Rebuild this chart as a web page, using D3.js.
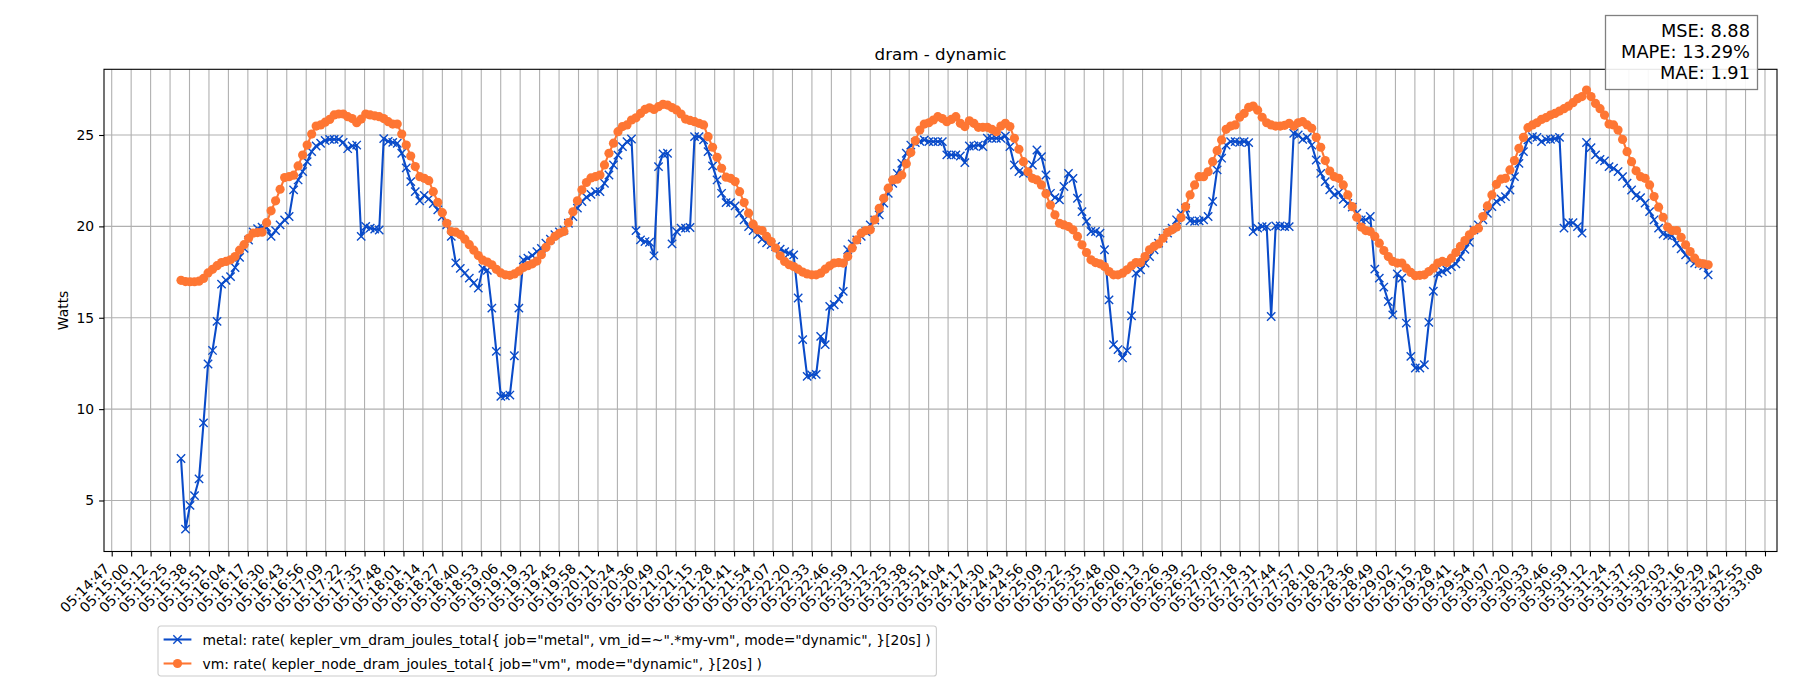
<!DOCTYPE html>
<html><head><meta charset="utf-8">
<script src="https://cdn.jsdelivr.net/npm/d3@7"></script>
<style>
body{margin:0;background:#fff;}
svg{display:block;}
text{font-family:"DejaVu Sans",sans-serif;fill:#000;}
</style>
</head><body>
<svg id="chart" width="1800" height="700"></svg>
<script>
const chartTitle = "dram - dynamic";
const yLabel = "Watts";
const metricLines = ["MSE: 8.88", "MAPE: 13.29%", "MAE: 1.91"];
const seriesNames = [
  'metal: rate( kepler_vm_dram_joules_total{ job="metal", vm_id=~".*my-vm", mode="dynamic", }[20s] )',
  'vm: rate( kepler_node_dram_joules_total{ job="vm", mode="dynamic", }[20s] )'
];
const tickLabels = ["05:14:47","05:15:00","05:15:12","05:15:25","05:15:38","05:15:51","05:16:04","05:16:17","05:16:30","05:16:43","05:16:56","05:17:09","05:17:22","05:17:35","05:17:48","05:18:01","05:18:14","05:18:27","05:18:40","05:18:53","05:19:06","05:19:19","05:19:32","05:19:45","05:19:58","05:20:11","05:20:24","05:20:36","05:20:49","05:21:02","05:21:15","05:21:28","05:21:41","05:21:54","05:22:07","05:22:20","05:22:33","05:22:46","05:22:59","05:23:12","05:23:25","05:23:38","05:23:51","05:24:04","05:24:17","05:24:30","05:24:43","05:24:56","05:25:09","05:25:22","05:25:35","05:25:48","05:26:00","05:26:13","05:26:26","05:26:39","05:26:52","05:27:05","05:27:18","05:27:31","05:27:44","05:27:57","05:28:10","05:28:23","05:28:36","05:28:49","05:29:02","05:29:15","05:29:28","05:29:41","05:29:54","05:30:07","05:30:20","05:30:33","05:30:46","05:30:59","05:31:12","05:31:24","05:31:37","05:31:50","05:32:03","05:32:16","05:32:29","05:32:42","05:32:55","05:33:08"];
const yTickValues = [5, 10, 15, 20, 25];
const seriesStart = "05:15:33.15";
const stepSeconds = 3;

const metalValues = [
7.3,3.43,4.73,5.27,6.18,9.25,12.47,13.21,14.8,16.84,
17.05,17.25,17.75,18.3,18.8,19.25,19.7,19.88,19.95,19.95,
19.45,19.77,20.08,20.35,20.54,22.0,22.54,23.0,23.54,24.09,
24.4,24.55,24.7,24.76,24.76,24.76,24.6,24.25,24.4,24.45,
19.45,20.0,19.9,19.85,19.8,24.8,24.65,24.6,24.55,24.0,
23.2,22.45,21.9,21.4,21.7,21.5,21.25,20.9,20.54,20.08,
19.45,18.0,17.7,17.44,17.17,16.9,16.62,17.7,17.6,15.53,
13.16,10.7,10.73,10.77,12.92,15.53,18.17,18.26,18.4,18.62,
18.8,19.08,19.3,19.55,19.7,19.8,20.17,20.54,21.0,21.36,
21.6,21.75,21.9,21.9,22.36,22.81,23.36,23.9,24.36,24.64,
24.78,19.77,19.26,19.17,19.13,18.39,23.27,23.97,24.0,19.04,
19.72,19.9,19.9,19.94,24.91,24.91,24.73,24.09,23.31,22.54,
21.81,21.3,21.3,21.12,20.72,20.36,19.99,19.77,19.55,19.3,
19.1,19.0,18.9,18.75,18.62,18.53,18.44,16.08,13.8,11.79,
11.87,11.9,13.98,13.53,15.62,15.71,16.02,16.44,18.72,19.04,
19.26,19.45,19.72,20.08,20.35,20.63,21.27,21.81,22.36,22.9,
23.45,24.0,24.45,24.58,24.65,24.73,24.64,24.64,24.64,24.64,
23.91,23.91,23.91,23.85,23.49,24.4,24.4,24.45,24.36,24.82,
24.82,24.82,24.82,24.95,24.36,23.36,23.0,22.9,23.09,23.36,
24.18,23.82,22.81,21.81,21.57,21.45,22.18,22.9,22.63,21.54,
20.81,20.27,19.72,19.72,19.63,18.72,15.98,13.53,13.26,12.8,
13.2,15.11,17.44,17.62,17.99,18.35,18.72,19.08,19.35,19.63,
19.9,20.36,20.72,21.0,20.3,20.27,20.3,20.36,20.54,21.36,
23.09,23.73,24.45,24.64,24.64,24.6,24.64,24.58,19.72,19.9,
19.99,19.99,15.07,20.03,20.03,19.99,19.99,25.09,25.0,24.76,
24.87,24.45,23.63,22.9,22.45,22.0,21.72,21.85,21.48,21.25,
21.05,20.72,20.36,20.36,20.54,17.66,17.17,16.68,15.89,15.16,
17.4,17.17,14.71,12.89,12.25,12.25,12.43,14.75,16.45,17.44,
17.53,17.62,17.8,17.95,18.35,18.75,19.13,19.81,20.08,20.36,
20.72,21.08,21.36,21.5,21.63,21.99,22.72,23.45,24.09,24.73,
24.91,24.87,24.64,24.76,24.76,24.8,24.87,19.9,20.2,20.2,
19.99,19.63,24.59,24.31,23.91,23.67,23.58,23.27,23.18,23.0,
22.72,22.36,21.99,21.68,21.57,21.27,20.81,20.36,19.9,19.58,
19.5,19.5,19.08,18.77,18.44,18.17,17.99,17.95,17.85,17.35
];

const vmValues = [
17.05,16.98,16.97,16.97,17.0,17.15,17.45,17.65,17.85,18.02,
18.08,18.17,18.35,18.7,19.0,19.35,19.63,19.66,19.68,20.2,
20.85,21.4,22.03,22.67,22.72,22.8,23.31,23.9,24.45,25.05,
25.49,25.55,25.7,25.85,26.1,26.15,26.15,26.0,25.9,25.67,
25.87,26.15,26.1,26.05,26.0,25.9,25.73,25.6,25.6,25.05,
24.45,23.85,23.27,22.72,22.63,22.5,21.9,21.32,20.75,20.17,
19.72,19.68,19.55,19.3,19.0,18.7,18.4,18.15,18.05,17.9,
17.65,17.45,17.35,17.32,17.4,17.55,17.75,17.85,17.95,18.1,
18.45,18.85,19.2,19.45,19.62,19.72,20.2,20.8,21.4,22.0,
22.4,22.65,22.72,22.81,23.36,24.0,24.55,25.18,25.46,25.55,
25.82,25.94,26.18,26.4,26.49,26.4,26.55,26.68,26.64,26.5,
26.37,26.15,25.87,25.8,25.73,25.64,25.55,24.91,24.33,23.78,
23.18,22.69,22.63,22.45,21.9,21.3,20.72,20.12,19.81,19.77,
19.45,19.17,18.81,18.39,18.08,17.9,17.8,17.66,17.5,17.4,
17.35,17.35,17.44,17.66,17.84,17.99,18.02,17.99,18.35,18.81,
19.26,19.63,19.77,19.81,20.36,20.99,21.54,22.09,22.54,22.58,
22.81,23.42,24.04,24.69,25.27,25.6,25.67,25.82,26.0,25.9,
25.73,25.85,26.0,25.64,25.46,25.78,25.64,25.42,25.42,25.42,
25.31,25.18,25.49,25.64,25.46,24.82,24.22,23.54,22.99,22.63,
22.54,22.27,21.78,21.17,20.63,20.17,20.08,19.99,19.81,19.45,
18.99,18.57,18.17,18.02,17.95,17.8,17.53,17.35,17.35,17.44,
17.62,17.84,18.02,18.02,18.35,18.72,18.9,19.04,19.35,19.67,
19.81,19.96,20.48,21.08,21.72,22.27,22.72,22.72,22.99,23.54,
24.14,24.73,25.31,25.49,25.55,25.97,26.18,26.51,26.58,26.36,
25.97,25.67,25.55,25.49,25.49,25.53,25.64,25.49,25.67,25.73,
25.55,25.37,24.87,24.33,23.6,23.03,22.72,22.63,22.27,21.72,
21.08,20.5,19.96,19.77,19.72,19.45,19.08,18.68,18.35,18.08,
17.99,17.99,17.71,17.48,17.3,17.32,17.35,17.53,17.71,17.99,
18.08,18.02,18.26,18.57,18.9,19.22,19.54,19.77,19.9,20.54,
21.12,21.72,22.3,22.58,22.63,23.09,23.6,24.27,24.87,25.4,
25.55,25.67,25.85,25.95,26.09,26.18,26.31,26.44,26.58,26.77,
26.99,27.1,27.46,27.1,26.73,26.44,26.09,25.6,25.55,25.27,
24.76,24.09,23.54,23.04,22.72,22.63,22.27,21.63,21.05,20.5,
19.96,19.77,19.77,19.4,18.99,18.62,18.26,17.99,17.95,17.9
];

const metalColor = "#0a4bc9";
const vmColor = "#fe7633";

const svg = d3.select("#chart");
const W = 1800, H = 700;
svg.append("rect").attr("width", W).attr("height", H).attr("fill", "#fff");

const M = {left: 104, right: 1777, top: 69.3, bottom: 551.5};
const toSec = s => { const p = s.split(":").map(Number); return p[0]*3600 + p[1]*60 + p[2]; };
const t0 = toSec(tickLabels[0]), t1 = toSec(tickLabels[tickLabels.length - 1]);
const tickVals = tickLabels.map((_, i) => t0 + i * (t1 - t0) / (tickLabels.length - 1));
const x = d3.scaleLinear().domain([t0 - 5.13, t1 + 8.0]).range([M.left, M.right]);
const y = d3.scaleLinear().domain([2.209, 28.595]).range([M.bottom, M.top]);
const start = toSec(seriesStart);
const metal = metalValues.map((v, i) => ({t: start + i * stepSeconds, v}));
const vm = vmValues.map((v, i) => ({t: start + i * stepSeconds, v}));

// grid
const grid = svg.append("g");
grid.selectAll(".gx").data(tickVals).join("line")
  .attr("x1", d => x(d)).attr("x2", d => x(d)).attr("y1", M.top).attr("y2", M.bottom)
  .attr("stroke", "#b0b0b0").attr("stroke-width", 1.1);
grid.selectAll(".gy").data(yTickValues).join("line")
  .attr("x1", M.left).attr("x2", M.right).attr("y1", d => y(d)).attr("y2", d => y(d))
  .attr("stroke", "#b0b0b0").attr("stroke-width", 1.1);

// axes
const xAxis = svg.append("g").attr("transform", `translate(0,${M.bottom})`)
  .call(d3.axisBottom(x).tickValues(tickVals).tickFormat((d, i) => tickLabels[i]).tickSize(4.9).tickSizeOuter(0));
xAxis.select(".domain").remove();
xAxis.selectAll(".tick line").attr("stroke", "#000").attr("stroke-width", 1.1);
xAxis.selectAll(".tick text")
  .attr("font-size", "13.9px").attr("font-family", "DejaVu Sans")
  .attr("text-anchor", "end").attr("x", 0).attr("y", 0).attr("dy", 0)
  .attr("transform", "translate(-2,18) rotate(-45)");

const yAxis = svg.append("g").attr("transform", `translate(${M.left},0)`)
  .call(d3.axisLeft(y).tickValues(yTickValues).tickFormat(d3.format("d")).tickSize(4.9).tickPadding(4.9).tickSizeOuter(0));
yAxis.select(".domain").remove();
yAxis.selectAll(".tick line").attr("stroke", "#000").attr("stroke-width", 1.1);
yAxis.selectAll(".tick text").attr("font-size", "13.9px").attr("font-family", "DejaVu Sans");

// series
const line = d3.line().x(d => x(d.t)).y(d => y(d.v));
svg.append("path").datum(metal).attr("d", line).attr("fill", "none")
  .attr("stroke", metalColor).attr("stroke-width", 2.08).attr("stroke-linejoin", "round");
const xs = 4.17;
svg.append("g").selectAll("path").data(metal).join("path")
  .attr("d", `M${-xs},${-xs}L${xs},${xs}M${-xs},${xs}L${xs},${-xs}`)
  .attr("transform", d => `translate(${x(d.t)},${y(d.v)})`)
  .attr("stroke", metalColor).attr("stroke-width", 1.4).attr("fill", "none");

svg.append("path").datum(vm).attr("d", line).attr("fill", "none")
  .attr("stroke", vmColor).attr("stroke-width", 2.08).attr("stroke-linejoin", "round");
svg.append("g").selectAll("circle").data(vm).join("circle")
  .attr("cx", d => x(d.t)).attr("cy", d => y(d.v)).attr("r", 4.6)
  .attr("fill", vmColor);

// spines
svg.append("rect").attr("x", M.left).attr("y", M.top)
  .attr("width", M.right - M.left).attr("height", M.bottom - M.top)
  .attr("fill", "none").attr("stroke", "#000").attr("stroke-width", 1.1);

// title and labels
svg.append("text").attr("x", (M.left + M.right) / 2).attr("y", 60)
  .attr("text-anchor", "middle").attr("font-size", "16.7px").text(chartTitle);
svg.append("text").attr("transform", `translate(68,${(M.top + M.bottom) / 2}) rotate(-90)`)
  .attr("text-anchor", "middle").attr("font-size", "13.9px").text(yLabel);

// metrics box
const mb = svg.append("g");
mb.append("rect").attr("x", 1605.5).attr("y", 15.5).attr("width", 152).attr("height", 74)
  .attr("fill", "#fff").attr("fill-opacity", 0.9).attr("stroke", "#808080").attr("stroke-width", 1.3);
metricLines.forEach((s, i) => {
  mb.append("text").attr("x", 1750).attr("y", 36.5 + i * 21.4)
    .attr("text-anchor", "end").attr("font-size", "17.8px").text(s);
});

// legend
const lg = svg.append("g").attr("transform", "translate(158,626)");
const lgBox = lg.append("rect").attr("rx", 2.8).attr("ry", 2.8)
  .attr("fill", "#fff").attr("fill-opacity", 0.8).attr("stroke", "#cccccc").attr("stroke-width", 1.1);
let maxW = 0;
const colors = [metalColor, vmColor];
seriesNames.forEach((name, i) => {
  const cy = 13.5 + i * 24;
  lg.append("line").attr("x1", 5.6).attr("x2", 33.4).attr("y1", cy).attr("y2", cy)
    .attr("stroke", colors[i]).attr("stroke-width", 2.08);
  if (i === 0) {
    lg.append("path").attr("d", `M${-xs},${-xs}L${xs},${xs}M${-xs},${xs}L${xs},${-xs}`)
      .attr("transform", `translate(19.5,${cy})`).attr("stroke", colors[i]).attr("stroke-width", 1.4);
  } else {
    lg.append("circle").attr("cx", 19.5).attr("cy", cy).attr("r", 4.6).attr("fill", colors[i]);
  }
  const t = lg.append("text").attr("x", 44.5).attr("y", cy + 5).attr("font-size", "13.9px").text(name);
  maxW = Math.max(maxW, t.node().getComputedTextLength());
});
lgBox.attr("x", 0).attr("y", 0).attr("width", 44.5 + maxW + 5.6).attr("height", 50);
</script>
</body></html>
